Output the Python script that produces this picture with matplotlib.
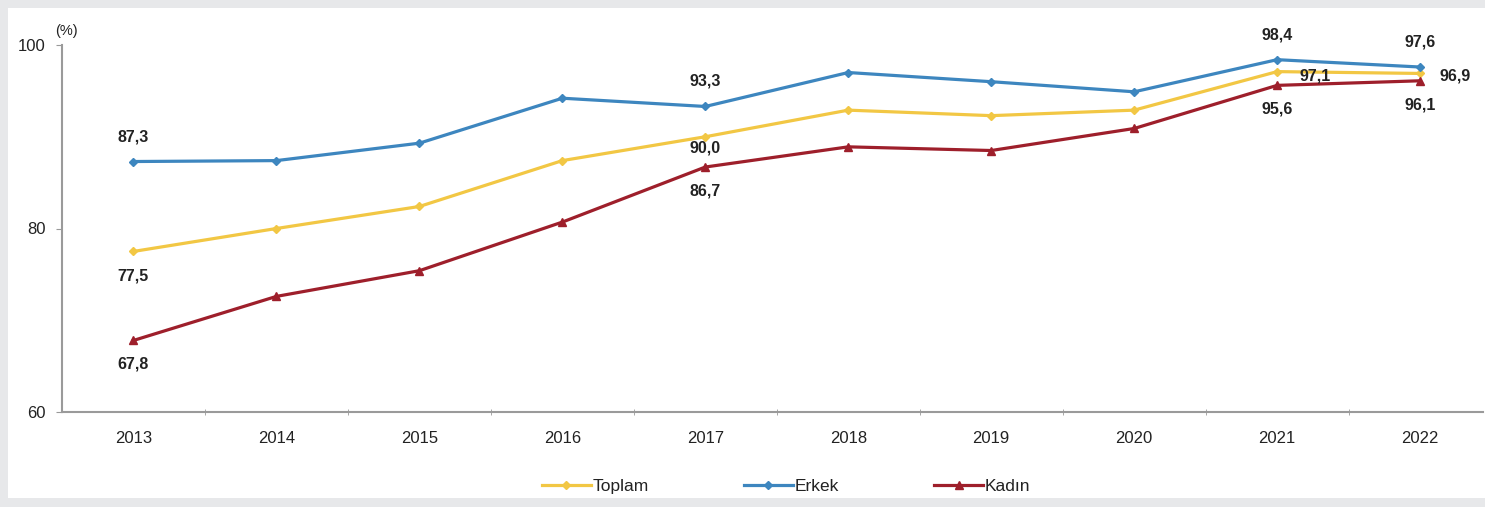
import matplotlib
matplotlib.use("Agg")
import matplotlib.pyplot as plt
from matplotlib.patches import Rectangle

plt.rcParams['font.family'] = ['Liberation Sans', 'DejaVu Sans']

years = ["2013", "2014", "2015", "2016", "2017", "2018", "2019", "2020", "2021", "2022"]
toplam = [77.5, 80.0, 82.4, 87.4, 90.0, 92.9, 92.3, 92.9, 97.1, 96.9]
erkek = [87.3, 87.4, 89.3, 94.2, 93.3, 97.0, 96.0, 94.9, 98.4, 97.6]
kadin = [67.8, 72.6, 75.4, 80.7, 86.7, 88.9, 88.5, 90.9, 95.6, 96.1]
labeled = [0, 4, 8, 9]
yticks = [60, 80, 100]

c_t = "#f2c744"
c_e = "#3d86bf"
c_k = "#9e1f2b"

fig = plt.figure(figsize=(14.85, 5.07), dpi=100)
fig.patch.set_facecolor("#e7e8ea")
bg = Rectangle((8 / 1485, 9 / 507), 1 - 8 / 1485, 1 - 17 / 507,
               transform=fig.transFigure, facecolor="white", edgecolor="none", zorder=-10)
fig.add_artist(bg)

ax = fig.add_axes([62 / 1485, 1 - 412 / 507, (1483 - 62) / 1485, (412 - 45) / 507])
ax.set_zorder(1)
ax.patch.set_alpha(0)
x = list(range(len(years)))
ax.plot(x, toplam, color=c_t, lw=2.3, marker="D", ms=4.5, label="Toplam", zorder=3)
ax.plot(x, erkek, color=c_e, lw=2.3, marker="D", ms=4.5, label="Erkek", zorder=3)
ax.plot(x, kadin, color=c_k, lw=2.3, marker="^", ms=5.5, label="Kadın", zorder=3)

ax.set_xlim(-0.5, 9.44)
ax.set_ylim(60, 100)
ax.set_yticks(yticks)
ax.set_yticklabels([str(v) for v in yticks])
ax.set_xticks(x)
ax.set_xticklabels(years)
ax.set_xticks([i + 0.5 for i in x[:-1]], minor=True)
ax.tick_params(axis="x", which="major", length=0, pad=14, labelsize=12, colors="#222222")
ax.tick_params(axis="x", which="minor", length=5, direction="inout", color="#999999")
ax.tick_params(axis="y", length=4, direction="out", color="#999999", labelsize=12,
               colors="#222222", pad=8)
for s in ["top", "right"]:
    ax.spines[s].set_visible(False)
for s in ["left", "bottom"]:
    ax.spines[s].set_color("#9a9a9a")
    ax.spines[s].set_linewidth(1.5)

def fmt(v):
    return f"{v:.1f}".replace(".", ",")

fs = 11.5
tc = "#222222"
px = 0.72

def lab(i, v, dx, dy):
    ax.annotate(fmt(v), (i, v), xytext=(dx * px, dy * px), textcoords="offset points",
                ha="center", va="center", fontsize=fs, color=tc, fontweight="bold")

for i in labeled:
    lab(i, erkek[i], 0, 25)
    lab(i, kadin[i], 0, -24)
    if i == 8:
        lab(i, toplam[i], 38, -4)
    elif i == 9:
        lab(i, toplam[i], 35, -3)
    elif i == 4:
        lab(i, toplam[i], 0, -11)
    else:
        lab(i, toplam[i], 0, -25)

fig.text(66 / 1485, 1 - 31 / 507, "(%)", fontsize=10.5, color=tc, ha="center", va="center")

leg = fig.legend(loc="center", bbox_to_anchor=(786 / 1485, 1 - 486 / 507), ncol=3,
                 frameon=False, fontsize=12.5, handlelength=2.8, handletextpad=0.1,
                 columnspacing=5.5)
for t in leg.get_texts():
    t.set_color(tc)

fig.savefig("out.png", dpi=100, facecolor=fig.get_facecolor())
